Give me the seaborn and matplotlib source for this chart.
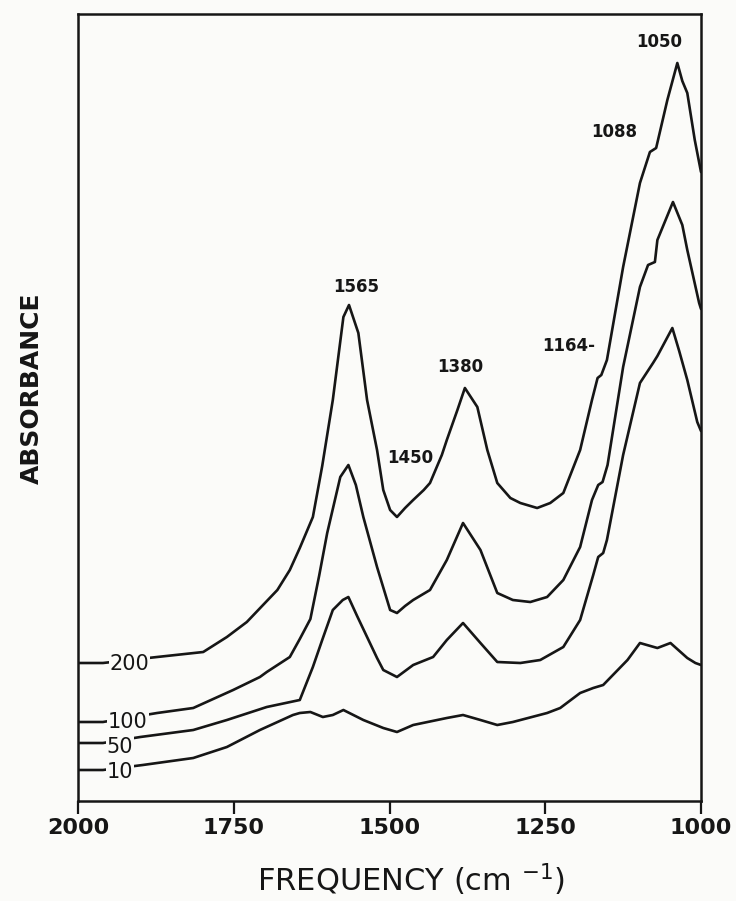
import numpy as np
import pandas as pd
import matplotlib
matplotlib.use("Agg")
import matplotlib.pyplot as plt
import seaborn as sns

# ---- data (arbitrary absorbance units) ----
freq_200 = [2000, 1960, 1873, 1799, 1761, 1729, 1703, 1680, 1660, 1644,
            1623, 1608, 1591, 1574, 1565, 1550, 1536, 1520, 1510, 1499,
            1488, 1475, 1462, 1445, 1435, 1416, 1408, 1391, 1379, 1359,
            1343, 1327, 1306, 1290, 1263, 1242, 1221, 1194, 1175, 1166,
            1160, 1151, 1125, 1098, 1082, 1072, 1054, 1038, 1030, 1022,
            1010, 1000]
abs_200 = [138, 138, 144, 149, 164, 179, 196, 211, 231, 253,
           284, 335, 401, 484, 496, 468, 401, 351, 311, 291,
           284, 293, 301, 311, 318, 346, 361, 391, 413, 394,
           351, 318, 303, 298, 293, 298, 308, 351, 401, 423,
           426, 441, 534, 618, 649, 653, 701, 738, 720, 708,
           661, 629]

freq_100 = [2000, 1960, 1873, 1815, 1751, 1708, 1697, 1660, 1644, 1627,
            1613, 1600, 1579, 1566, 1554, 1542, 1520, 1499, 1488, 1475,
            1462, 1435, 1408, 1382, 1354, 1327, 1302, 1274, 1247, 1221,
            1194, 1175, 1165, 1158, 1150, 1125, 1098, 1085, 1074, 1070,
            1045, 1030, 1022, 1003, 1000]
abs_100 = [79, 79, 88, 93, 111, 124, 129, 144, 162, 182,
           225, 268, 324, 336, 316, 284, 234, 191, 188, 195,
           201, 211, 241, 278, 251, 208, 201, 199, 204, 221,
           254, 301, 316, 319, 336, 434, 514, 536, 539, 561,
           599, 576, 551, 498, 492]

freq_50 = [2000, 1960, 1900, 1815, 1761, 1697, 1644, 1623, 1608, 1591,
           1575, 1566, 1552, 1536, 1520, 1510, 1488, 1462, 1430, 1408,
           1382, 1354, 1327, 1290, 1258, 1221, 1194, 1173, 1165, 1157,
           1151, 1125, 1098, 1077, 1070, 1046, 1035, 1022, 1006, 1000]
abs_50 = [58, 58, 64, 71, 81, 94, 101, 134, 161, 191,
          201, 204, 185, 164, 143, 131, 124, 136, 144, 161,
          178, 158, 139, 138, 141, 154, 181, 226, 244, 248,
          261, 346, 418, 438, 445, 473, 450, 421, 379, 370]

freq_10 = [2000, 1960, 1896, 1815, 1761, 1708, 1655, 1644, 1627, 1607,
           1591, 1574, 1542, 1510, 1488, 1462, 1408, 1382, 1354, 1327,
           1302, 1247, 1226, 1194, 1173, 1157, 1118, 1098, 1070, 1049,
           1022, 1009, 1000]
abs_10 = [31, 31, 36, 43, 54, 71, 86, 88, 89, 84,
          86, 91, 81, 73, 69, 76, 83, 86, 81, 76,
          79, 88, 93, 108, 113, 116, 141, 158, 153, 158,
          143, 138, 136]

curve_names = ["200", "100", "50", "10"]
curve_label_freq = [1917, 1920, 1933, 1933]
curve_label_level = [139, 81, 56, 31]

peak_text = ["1565", "1450", "1380", "1164-", "1088", "1050"]
peak_freq = [1554, 1467, 1387, 1213, 1139, 1067]
peak_level = [514, 343, 434, 455, 669, 759]

x_ticks = [2000, 1750, 1500, 1250, 1000]

# ---- build a long table for seaborn ----
series = {"200": (freq_200, abs_200), "100": (freq_100, abs_100),
          "50": (freq_50, abs_50), "10": (freq_10, abs_10)}
frames = []
for name, (f, a) in series.items():
    frames.append(pd.DataFrame({"freq": f, "absorb": a, "curve": name}))
df = pd.concat(frames, ignore_index=True)

# ---- plot ----
sns.set_style("ticks")
plt.rcParams["font.family"] = ["DejaVu Sans"]
bg = "#fbfbf9"
ink = "#161616"

fig = plt.figure(figsize=(7.36, 9.01), dpi=100, facecolor=bg)
ax = fig.add_axes([78 / 736, 1 - 801 / 901, 623 / 736, 787 / 901])
ax.set_facecolor(bg)

sns.lineplot(data=df, x="freq", y="absorb", units="curve", estimator=None,
             color=ink, lw=1.9, ax=ax, legend=False)

ax.set_xlim(2000, 1000)
ax.set_ylim(0, 787)
ax.set_yticks([])
ax.set_xticks(x_ticks)
ax.set_xticklabels([str(t) for t in x_ticks], fontsize=16, fontweight="bold")
ax.tick_params(axis="x", direction="out", length=9, width=1.6, pad=3.5,
               colors=ink)
for s in ax.spines.values():
    s.set_linewidth(1.8)
    s.set_color(ink)
ax.set_xlabel("")
ax.set_ylabel("")

# curve labels sitting on the curves near the left edge
for name, fx, lv in zip(curve_names, curve_label_freq, curve_label_level):
    ax.text(fx, lv, name, ha="center", va="center_baseline", fontsize=15,
            color=ink, bbox=dict(facecolor=bg, edgecolor="none", pad=0.6))

# peak annotations
for t, fx, lv in zip(peak_text, peak_freq, peak_level):
    ax.text(fx, lv, t, ha="center", va="center", fontsize=12,
            fontweight="bold", color=ink)

fig.text(411 / 736, 1 - 880 / 901, "FREQUENCY (cm $^{-1}$)", ha="center",
         va="center", fontsize=22, color=ink)
fig.text(32 / 736, 1 - 388 / 901, "ABSORBANCE", ha="center", va="center",
         rotation=90, fontsize=18, fontweight="bold", color=ink)

fig.savefig("out.png", dpi=100, facecolor=bg)
